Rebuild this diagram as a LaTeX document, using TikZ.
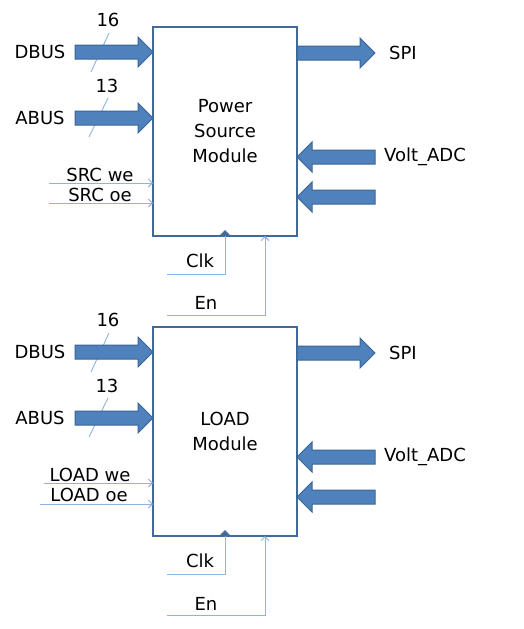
\documentclass[tikz,border=0pt]{standalone}
\usepackage{fontspec}
\setmainfont{DejaVu Sans}
\usetikzlibrary{shapes.arrows,arrows.meta}
\definecolor{afill}{HTML}{4F81BD}
\definecolor{aborder}{HTML}{3A6595}
\definecolor{bborder}{HTML}{41699A}
\definecolor{sigc}{HTML}{8DB3E2}
\tikzset{
  every node/.style={font=\fontsize{18}{25}\selectfont, inner sep=0pt, outer sep=0pt},
  modbox/.style={draw=bborder, line width=2.2pt, fill=white, minimum width=144pt, minimum height=209pt, align=center},
  barrow/.style={single arrow, draw=aborder, fill=afill, line width=1pt, inner sep=6.5pt, minimum height=78pt, single arrow head extend=8pt, single arrow head indent=0pt},
  barrowL/.style={barrow, shape border rotate=180},
  sig/.style={draw=sigc, line width=0.9pt},
  sigarr/.style={sig, -{Straight Barb[length=4pt,width=8pt]}},
  slashl/.style={draw=sigc, line width=0.9pt},
  clkmark/.style={fill=bborder, draw=bborder, line width=0.5pt},
}
\begin{document}
\begin{tikzpicture}[x=1pt,y=-1pt]
\useasboundingbox (0,0) rectangle (524,629);
% ---------- Module 1 ----------
\draw[slashl] (91,72) -- (109,33);
\draw[slashl] (89,137) -- (108,98);
\node[modbox] (m1) at (225,131.5) {Power\\Source\\Module};
\node[barrow, anchor=tip] (d1) at (153,52) {};
\node[barrow, anchor=tip] (a1) at (153,118) {};
\node (d1l) at (40,52) {DBUS};
\node (a1l) at (40,118) {ABUS};
\node (n16a) at (108,20) {16};
\node (n13a) at (107,86) {13};
\coordinate (we1s) at (49,183);
\coordinate (oe1s) at (49,203);
\draw[sigarr] (we1s) -- (we1s -| m1.west);
\draw[sigarr] (oe1s) -- (oe1s -| m1.west);
\node (we1l) at (100,174.5) {SRC we};
\node (oe1l) at (100,194.5) {SRC oe};
\node[barrow, anchor=tail] (s1) at (297,53) {};
\node (s1l) at (403,53) {SPI};
\node[barrowL, anchor=tip] (v1) at (297,157) {};
\node[barrowL, anchor=tip] (x1) at (297,197) {};
\node (v1l) at (425,157) {Volt\_ADC};
\coordinate (clk1) at (225,236);
\coordinate (clk1e) at (167,274);
\fill[clkmark] (219.5,236) -- (225,230.5) -- (230.5,236) -- cycle;
\draw[sig] (clk1) -- (clk1 |- clk1e) -- (clk1e);
\node (clk1l) at (200,261) {Clk};
\coordinate (en1s) at (167,315);
\coordinate (en1t) at (265,236);
\draw[sigarr] (en1s) -- (en1s -| en1t) -- (en1t);
\node (en1l) at (206,303) {En};
% ---------- Module 2 ----------
\draw[slashl] (91,372) -- (109,333);
\draw[slashl] (89,437) -- (108,398);
\node[modbox] (m2) at (225,431.5) {LOAD\\Module};
\node[barrow, anchor=tip] (d2) at (153,352) {};
\node[barrow, anchor=tip] (a2) at (153,418) {};
\node (d2l) at (40,352) {DBUS};
\node (a2l) at (40,418) {ABUS};
\node (n16b) at (108,320) {16};
\node (n13b) at (107,386) {13};
\coordinate (we2s) at (44,483);
\coordinate (oe2s) at (40,504);
\draw[sigarr] (we2s) -- (we2s -| m2.west);
\draw[sigarr] (oe2s) -- (oe2s -| m2.west);
\node (we2l) at (90,475) {LOAD we};
\node (oe2l) at (89,495) {LOAD oe};
\node[barrow, anchor=tail] (s2) at (297,353) {};
\node (s2l) at (403,353) {SPI};
\node[barrowL, anchor=tip] (v2) at (297,457) {};
\node[barrowL, anchor=tip] (x2) at (297,497) {};
\node (v2l) at (425,457) {Volt\_ADC};
\coordinate (clk2) at (225,536);
\coordinate (clk2e) at (167,574);
\fill[clkmark] (219.5,536) -- (225,530.5) -- (230.5,536) -- cycle;
\draw[sig] (clk2) -- (clk2 |- clk2e) -- (clk2e);
\node (clk2l) at (200,561) {Clk};
\coordinate (en2s) at (167,615);
\coordinate (en2t) at (265,536);
\draw[sigarr] (en2s) -- (en2s -| en2t) -- (en2t);
\node (en2l) at (206,604) {En};
\end{tikzpicture}
\end{document}
